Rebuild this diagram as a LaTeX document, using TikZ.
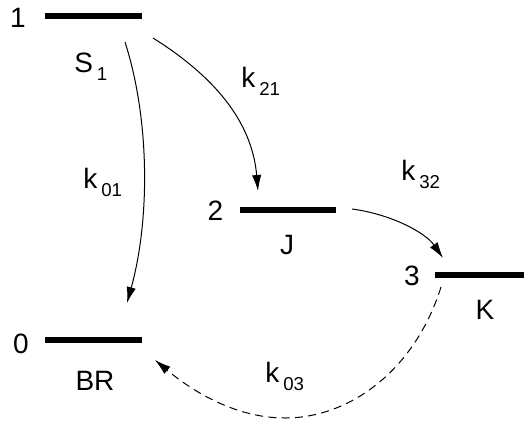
\documentclass[tikz,border=0pt]{standalone}
\usepackage{fontspec}
\setmainfont{Liberation Sans}
\usetikzlibrary{arrows.meta}
\newcommand{\subt}[1]{\raisebox{-6.5pt}{\fontsize{14}{16}\selectfont #1}}
\newcommand{\rate}[1]{k\kern3pt\subt{#1}}
\begin{document}
\begin{tikzpicture}[x=0.75pt,y=-0.75pt,
  lvl/.style={fill=black,inner sep=0pt,minimum width=72.5pt,minimum height=4.4pt},
  lbl/.style={font=\fontsize{21}{25}\selectfont,inner sep=0pt},
  klbl/.style={lbl,anchor=base west},
  tr/.style={line width=0.75pt,-{Latex[length=12pt,width=7pt]}}]
\useasboundingbox (0,0) rectangle (524,425);
\node[lvl] (L1) at (93.5,16) {};
\node[lvl] (L2) at (288,210) {};
\node[lvl,minimum width=67pt] (L3) at (479.5,275) {};
\node[lvl] (L0) at (93.5,340) {};
\node[lbl,anchor=base] (n1) at (18,27) {1};
\node[lbl,anchor=base] (n2) at (215.5,220) {2};
\node[lbl,anchor=base] (n3) at (412,285) {3};
\node[lbl,anchor=base] (n0) at (21,353) {0};
\node[klbl] (S1) at (74,72) {S\kern3pt\subt{1}};
\node[lbl] (J) at (287,245) {J};
\node[lbl] (K) at (485,310) {K};
\node[lbl] (BR) at (95,381) {BR};
\node[klbl] (k21) at (241,87) {\rate{21}};
\node[klbl] (k01) at (83,188) {\rate{01}};
\node[klbl] (k32) at (401,180) {\rate{32}};
\node[klbl] (k03) at (265,382) {\rate{03}};
\coordinate (a1) at (125,42);
\coordinate (a0) at (127,303);
\coordinate (b1) at (153,38);
\coordinate (b2) at (258,191);
\coordinate (c2) at (352,209);
\coordinate (c3) at (443,258);
\coordinate (d3) at (441,287);
\coordinate (dm) at (285,418);
\coordinate (d0) at (155,360);
\draw[tr] (a1) .. controls (150,120) and (150,220) .. (a0);
\draw[tr] (b1) .. controls (212,75) and (252,120) .. (b2);
\draw[tr] (c2) .. controls (390,214) and (425,232) .. (c3);
\draw[tr,dash pattern=on 6pt off 4pt] (d3) .. controls (415,370) and (350,418) .. (dm) .. controls (230,418) and (185,385) .. (d0);
\end{tikzpicture}
\end{document}
